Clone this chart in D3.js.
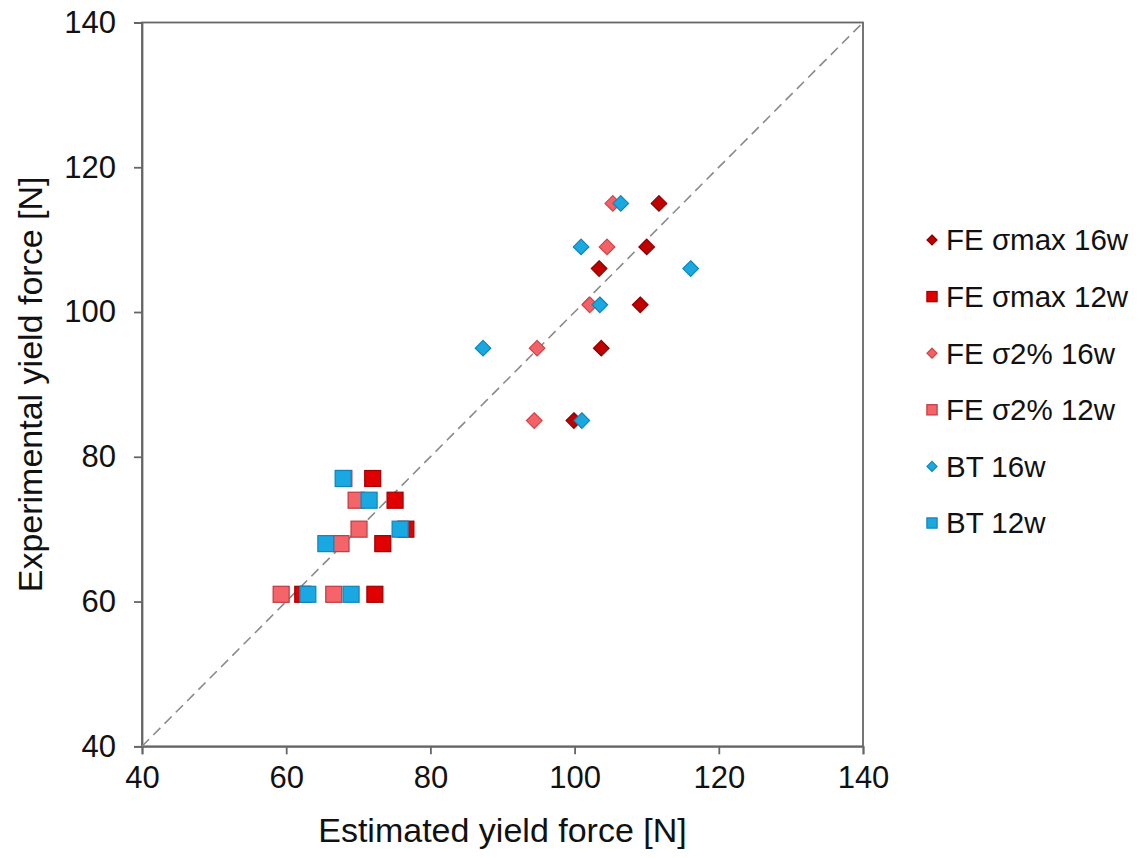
<!DOCTYPE html>
<html>
<head>
<meta charset="utf-8">
<script src="https://cdn.jsdelivr.net/npm/d3@7"></script>
<style>
  html, body { margin: 0; padding: 0; background: #fff; }
  svg { display: block; }
  text { font-family: "Liberation Sans", Arial, sans-serif; fill: #111; }
</style>
</head>
<body>
<svg id="chart" width="1138" height="858"></svg>
<script>
// ---- data ----
const seriesNames = ["FE σmax 16w", "FE σmax 12w", "FE σ2% 16w", "FE σ2% 12w", "BT 16w", "BT 12w"];
const feMax16x = [111.7, 110.0, 103.4, 109.1, 103.7, 99.9];
const feMax16y = [115, 109, 106, 101, 95, 85];
const feMax12x = [72.0, 75.1, 76.6, 73.4, 72.3, 62.3];
const feMax12y = [77, 74, 70, 68, 61, 61];
const fe2p16x = [105.3, 104.5, 102.1, 94.8, 94.4];
const fe2p16y = [115, 109, 101, 95, 85];
const fe2p12x = [68.0, 69.7, 70.1, 67.6, 59.3, 66.6];
const fe2p12y = [77, 74, 70, 68, 61, 61];
const bt16x = [106.4, 100.9, 116.1, 103.5, 87.3, 101.0];
const bt16y = [115, 109, 106, 101, 95, 85];
const bt12x = [67.9, 71.5, 75.8, 65.5, 63.0, 69.0];
const bt12y = [77, 74, 70, 68, 61, 61];
const xTicks = [40, 60, 80, 100, 120, 140];
const yTicks = [40, 60, 80, 100, 120, 140];
const xTitle = "Estimated yield force [N]";
const yTitle = "Experimental yield force [N]";

const seriesX = [feMax16x, feMax12x, fe2p16x, fe2p12x, bt16x, bt12x];
const seriesY = [feMax16y, feMax12y, fe2p16y, fe2p12y, bt16y, bt12y];
const shapes = ["diamond", "square", "diamond", "square", "diamond", "square"];
const fills = ["#C00000", "#E00000", "#F26266", "#F46468", "#1AA8E2", "#1AA8E2"];
const strokes = ["#8A0000", "#A00000", "#D04448", "#C03A40", "#0E86B8", "#0E86B8"];

// ---- layout ----
const svg = d3.select("#chart");
const L = 142, R = 863, T = 22.5, B = 746.3;
const x = d3.scaleLinear().domain([40, 140]).range([L, R]);
const y = d3.scaleLinear().domain([40, 140]).range([B, T]);

// frame
svg.append("rect").attr("x", L).attr("y", T).attr("width", R - L).attr("height", B - T)
  .attr("fill", "none").attr("stroke", "#666").attr("stroke-width", 1.8);

// axes
const gx = svg.append("g").attr("transform", `translate(0,${B})`)
  .call(d3.axisBottom(x).tickValues(xTicks).tickSize(8).tickPadding(12).tickFormat(d3.format("d")));
const gy = svg.append("g").attr("transform", `translate(${L},0)`)
  .call(d3.axisLeft(y).tickValues(yTicks).tickSize(8).tickPadding(18).tickFormat(d3.format("d")));
[gx, gy].forEach(g => {
  g.select(".domain").attr("stroke", "#666").attr("stroke-width", 1.8);
  g.selectAll(".tick line").attr("stroke", "#666").attr("stroke-width", 1.8);
  g.selectAll(".tick text").attr("font-size", 31).attr("fill", "#111")
    .style("font-family", "'Liberation Sans', Arial, sans-serif");
});

// diagonal reference line
svg.append("line")
  .attr("x1", x(40)).attr("y1", y(40)).attr("x2", x(140)).attr("y2", y(140))
  .attr("stroke", "#8a8a8a").attr("stroke-width", 1.6).attr("stroke-dasharray", "10,6");

// markers
function drawMarker(g, shape, px, py, fill, stroke, scale) {
  if (shape === "diamond") {
    const h = 7.8 * scale;
    g.append("path")
      .attr("d", `M${px},${py - h}L${px + h},${py}L${px},${py + h}L${px - h},${py}Z`)
      .attr("fill", fill).attr("stroke", stroke).attr("stroke-width", 1.2);
  } else {
    const s = 16 * scale;
    g.append("rect").attr("x", px - s / 2).attr("y", py - s / 2).attr("width", s).attr("height", s)
      .attr("fill", fill).attr("stroke", stroke).attr("stroke-width", 1.2);
  }
}
const gm = svg.append("g");
seriesX.forEach((xs, i) => {
  xs.forEach((v, j) => {
    drawMarker(gm, shapes[i], x(v), y(seriesY[i][j]), fills[i], strokes[i], 1);
  });
});

// legend
const lg = svg.append("g");
const legY0 = 240, legDy = 56.6, legMX = 932, legTX = 946;
seriesNames.forEach((name, i) => {
  const cy = legY0 + i * legDy;
  drawMarker(lg, shapes[i], legMX, cy, fills[i], strokes[i], 0.64);
  lg.append("text").attr("x", legTX).attr("y", cy).attr("dy", "0.35em")
    .attr("font-size", 29.5).text(name);
});

// titles
svg.append("text").attr("x", (L + R) / 2).attr("y", 842).attr("text-anchor", "middle")
  .attr("font-size", 34).text(xTitle);
svg.append("text").attr("transform", `translate(42,${(T + B) / 2}) rotate(-90)`)
  .attr("text-anchor", "middle").attr("font-size", 34).text(yTitle);
</script>
</body>
</html>
